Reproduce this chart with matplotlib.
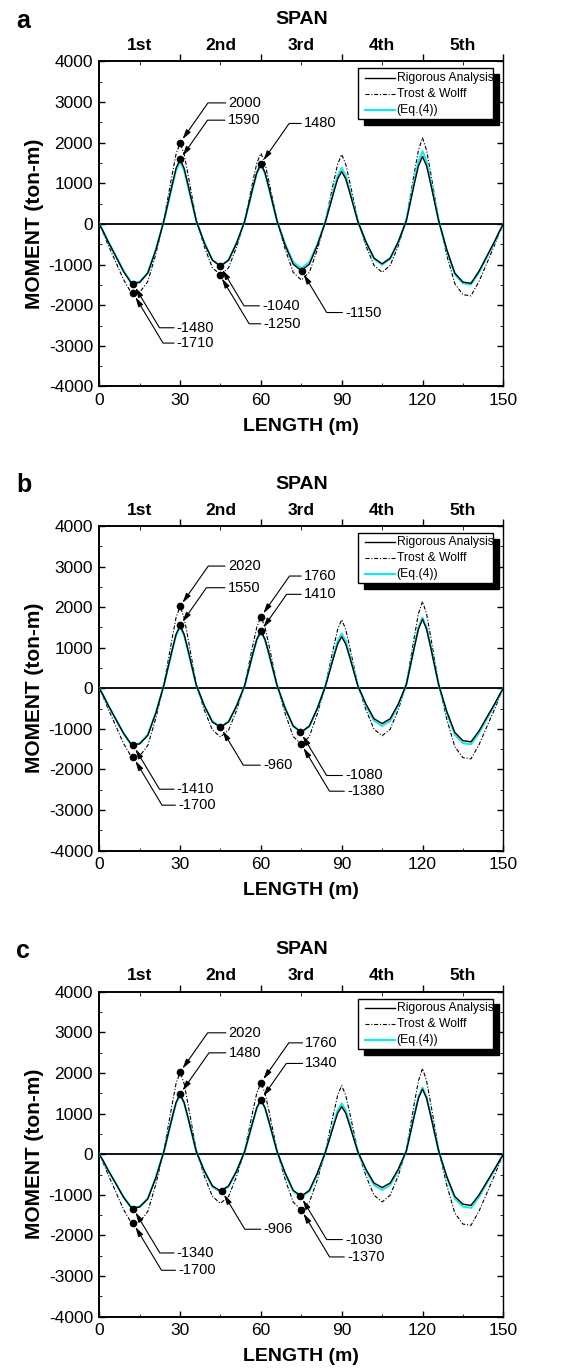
import matplotlib
matplotlib.use("Agg")
import matplotlib.pyplot as plt
from matplotlib.patches import Rectangle
from matplotlib.lines import Line2D
from matplotlib.ticker import MultipleLocator

plt.rcParams["font.family"] = ["Liberation Sans", "DejaVu Sans"]
plt.rcParams["axes.unicode_minus"] = False

# ---- data (moment in ton-m along the 150 m girder) ----
length_m = [0, 1.5, 3, 6, 9, 12, 15, 18, 21, 24, 27, 28.5,
            30, 31.5, 33, 36, 39, 42, 45, 48, 51, 54, 57, 58.5,
            60, 61.5, 63, 66, 69, 72, 75, 78, 81, 84, 87, 88.5,
            90, 91.5, 93, 96, 99, 102, 105, 108, 111, 114, 117, 118.5,
            120, 121.5, 123, 126, 129, 132, 135, 138, 141, 144, 147, 148.5,
            150]

rigorous_a = [0, -190, -400, -780, -1170, -1470, -1440, -1210, -640, 80, 950, 1370,
              1590, 1370, 950, 80, -470, -890, -1040, -890, -470, 70, 890, 1270,
              1480, 1270, 890, 70, -520, -990, -1150, -990, -520, 60, 770, 1110,
              1290, 1110, 770, 60, -440, -840, -980, -840, -440, 80, 1000, 1430,
              1660, 1430, 1000, 80, -630, -1210, -1430, -1460, -1160, -780, -400, -190,
              0]
trost_a = [0, -220, -470, -920, -1370, -1710, -1680, -1420, -740, 100, 1200, 1720,
           2000, 1720, 1200, 100, -560, -1080, -1250, -1080, -560, 90, 1040, 1500,
           1740, 1500, 1040, 90, -620, -1190, -1380, -1190, -620, 90, 1030, 1470,
           1710, 1470, 1030, 90, -540, -1020, -1190, -1020, -540, 110, 1270, 1820,
           2120, 1820, 1270, 110, -770, -1470, -1740, -1770, -1410, -950, -480, -230,
           0]
eq4_a = [0, -190, -390, -770, -1150, -1450, -1420, -1200, -630, 80, 920, 1320,
         1540, 1320, 920, 80, -460, -890, -1030, -890, -460, 70, 870, 1250,
         1450, 1250, 870, 70, -490, -940, -1090, -940, -490, 70, 830, 1190,
         1380, 1190, 830, 70, -450, -860, -1005, -860, -450, 90, 1070, 1540,
         1790, 1540, 1070, 90, -650, -1240, -1460, -1490, -1190, -800, -410, -200,
         0]

rigorous_b = [0, -180, -380, -750, -1110, -1400, -1370, -1160, -610, 80, 930, 1330,
              1550, 1330, 930, 80, -430, -830, -960, -830, -430, 70, 850, 1210,
              1410, 1210, 850, 70, -490, -930, -1080, -930, -490, 60, 760, 1090,
              1270, 1090, 760, 60, -390, -750, -870, -750, -390, 90, 1020, 1460,
              1700, 1460, 1020, 90, -570, -1090, -1290, -1320, -1050, -700, -360, -170,
              0]
trost_b = [0, -220, -460, -910, -1360, -1700, -1670, -1410, -740, 100, 1210, 1740,
           2020, 1740, 1210, 100, -540, -1030, -1200, -1030, -540, 90, 1060, 1510,
           1760, 1510, 1060, 90, -620, -1190, -1380, -1190, -620, 80, 1010, 1450,
           1690, 1450, 1010, 80, -530, -1010, -1170, -1010, -530, 110, 1280, 1840,
           2140, 1840, 1280, 110, -760, -1440, -1710, -1740, -1390, -930, -480, -230,
           0]
eq4_b = [0, -180, -380, -740, -1110, -1390, -1360, -1150, -600, 80, 910, 1300,
         1510, 1300, 910, 80, -430, -820, -950, -820, -430, 70, 840, 1200,
         1400, 1200, 840, 70, -490, -940, -1090, -940, -490, 70, 810, 1160,
         1350, 1160, 810, 70, -420, -800, -930, -800, -420, 90, 1040, 1500,
         1740, 1500, 1040, 90, -600, -1140, -1350, -1380, -1100, -740, -380, -180,
         0]

rigorous_c = [0, -170, -360, -710, -1060, -1330, -1300, -1100, -580, 70, 890, 1270,
              1480, 1270, 890, 70, -410, -780, -906, -780, -410, 70, 800, 1150,
              1340, 1150, 800, 70, -460, -890, -1030, -890, -460, 60, 700, 1010,
              1170, 1010, 700, 60, -370, -710, -820, -710, -370, 80, 960, 1380,
              1600, 1380, 960, 80, -550, -1040, -1230, -1260, -1000, -670, -340, -170,
              0]
trost_c = [0, -220, -460, -910, -1360, -1700, -1670, -1410, -740, 100, 1210, 1740,
           2020, 1740, 1210, 100, -540, -1040, -1210, -1040, -540, 90, 1060, 1510,
           1760, 1510, 1060, 90, -620, -1180, -1370, -1180, -620, 80, 1010, 1450,
           1690, 1450, 1010, 80, -530, -1010, -1175, -1010, -530, 110, 1270, 1810,
           2110, 1810, 1270, 110, -760, -1450, -1720, -1750, -1400, -940, -480, -230,
           0]
eq4_c = [0, -170, -360, -700, -1050, -1320, -1290, -1090, -570, 70, 880, 1260,
         1460, 1260, 880, 70, -420, -800, -930, -800, -420, 70, 790, 1140,
         1320, 1140, 790, 70, -480, -910, -1060, -910, -480, 60, 750, 1080,
         1250, 1080, 750, 60, -400, -760, -880, -760, -400, 80, 980, 1410,
         1640, 1410, 980, 80, -570, -1090, -1290, -1320, -1050, -700, -360, -170,
         0]

# labelled points
mark_x_a = [30, 30, 60, 12.6, 12.6, 44.9, 44.7, 75.1]
mark_m_a = [2000, 1590, 1480, -1480, -1710, -1040, -1250, -1150]
mark_x_b = [30, 30, 60, 60, 12.6, 12.6, 45, 74.7, 75]
mark_m_b = [2020, 1550, 1760, 1410, -1410, -1700, -960, -1080, -1380]
mark_x_c = [30, 30, 60, 60, 12.6, 12.6, 45.5, 74.7, 75]
mark_m_c = [2020, 1480, 1760, 1340, -1340, -1700, -906, -1030, -1370]

span_names = ["1st", "2nd", "3rd", "4th", "5th"]
span_mid = [15, 45, 75, 105, 135]
supports = [30, 60, 90, 120, 150]
legend_names = ["Rigorous Analysis", "Trost & Wolff", "(Eq.(4))"]

# label text positions (layout)
text_pos_a = [(48.0, 2980), (47.7, 2555), (76.0, 2474), (28.8, -2555), (28.8, -2932),
              (60.5, -2015), (61.0, -2457), (91.3, -2180)]
text_pos_b = [(47.7, 3012), (47.7, 2478), (76.0, 2766), (76.0, 2315), (28.8, -2488),
              (29.3, -2882), (60.8, -1896), (91.3, -2150), (92.0, -2537)]
text_pos_c = [(48.0, 2988), (48.0, 2495), (76.5, 2741), (76.5, 2234), (28.8, -2431),
              (29.3, -2857), (61.0, -1847), (91.3, -2101), (92.0, -2529)]

CYAN = "#18e8ec"
DASHDOT = (0, (3.6, 1.6, 1.0, 1.6))


def draw_legend(ax):
    x0, y0, w, h = 0.640, 0.823, 0.335, 0.156
    ax.add_patch(Rectangle((x0 + 0.015, y0 - 0.018), w, h, transform=ax.transAxes,
                           facecolor="black", edgecolor="black", zorder=6, clip_on=False))
    ax.add_patch(Rectangle((x0, y0), w, h, transform=ax.transAxes, facecolor="white",
                           edgecolor="black", lw=1.0, zorder=7, clip_on=False))
    styles = [dict(color="black", lw=1.0), dict(color="black", lw=0.8, linestyle=DASHDOT),
              dict(color=CYAN, lw=1.6)]
    rows = [0.950, 0.900, 0.851]
    for name, st, yy in zip(legend_names, styles, rows):
        ax.add_line(Line2D([0.657, 0.731], [yy, yy], transform=ax.transAxes, zorder=8, **st))
        ax.text(0.736, yy, name, transform=ax.transAxes, fontsize=8.7, va="center",
                ha="left", zorder=8)


def draw_panel(ax, letter, rig, trost, eq4, mx, mm, tpos):
    ax.axhline(0, color="black", lw=1.3, zorder=2)
    ax.plot(length_m, trost, color="black", lw=0.8, linestyle=DASHDOT, zorder=3)
    ax.plot(length_m, eq4, color=CYAN, lw=1.5, zorder=3)
    ax.plot(length_m, rig, color="black", lw=1.0, zorder=4)

    for x, m, (tx, ty) in zip(mx, mm, tpos):
        ax.plot(x, m, "o", color="black", ms=4.5, zorder=5)
        ang = 55 if ty > m else -59
        ax.annotate(str(m), xy=(x, m), xytext=(tx, ty), ha="left", va="center",
                    fontsize=10.5, zorder=5,
                    arrowprops=dict(arrowstyle="-|>,head_length=0.55,head_width=0.15",
                                    color="black", lw=0.8, shrinkA=0, shrinkB=3,
                                    relpos=(0, 0.5),
                                    connectionstyle=f"angle,angleA=0,angleB={ang},rad=0"))

    ax.set_xlim(0, 150)
    ax.set_ylim(-4000, 4000)
    ax.set_xticks([0, 30, 60, 90, 120, 150])
    ax.xaxis.set_minor_locator(MultipleLocator(15))
    ax.set_yticks(range(-4000, 4001, 1000))
    ax.yaxis.set_minor_locator(MultipleLocator(500))
    ax.tick_params(axis="x", which="major", direction="in", length=4.5, width=1,
                   top=False, labelsize=12.5, pad=4.5)
    ax.tick_params(axis="x", which="minor", direction="in", length=2.5, top=False)
    ax.tick_params(axis="y", which="major", direction="in", length=4.5, width=1,
                   right=True, labelsize=12.5, pad=4.5)
    ax.tick_params(axis="y", which="minor", direction="in", length=2.5, right=True)
    for side, lw in [("left", 1.4), ("bottom", 1.4), ("top", 1.2), ("right", 1.0)]:
        ax.spines[side].set_linewidth(lw)

    top = ax.secondary_xaxis("top")
    top.set_xticks(supports)
    top.set_xticklabels([])
    top.set_xticks(span_mid, minor=True)
    top.set_xticklabels(span_names, minor=True, fontweight="bold", fontsize=12.5)
    top.tick_params(which="major", direction="out", length=5, width=1)
    top.tick_params(which="minor", direction="in", length=3, pad=6)
    top.spines["top"].set_linewidth(1.2)

    ax.text(0.5, 1.129, "SPAN", transform=ax.transAxes, ha="center", va="center",
            fontsize=14, fontweight="bold")
    ax.text(-0.16, 0.5, "MOMENT (ton-m)", transform=ax.transAxes, rotation=90,
            ha="center", va="center", fontsize=15, fontweight="bold")
    ax.text(0.5, -0.123, "LENGTH (m)", transform=ax.transAxes, ha="center", va="center",
            fontsize=14, fontweight="bold")
    ax.text(-0.206, 1.126, letter, transform=ax.transAxes, ha="left", va="center",
            fontsize=18, fontweight="bold")
    draw_legend(ax)


fig = plt.figure(figsize=(5.68, 13.69), dpi=100)
left, width = 0.1748, 0.7113
ax_a = fig.add_axes([left, 0.7177, width, 0.2374])
ax_b = fig.add_axes([left, 0.3787, width, 0.2371])
ax_c = fig.add_axes([left, 0.0382, width, 0.2374])

draw_panel(ax_a, "a", rigorous_a, trost_a, eq4_a, mark_x_a, mark_m_a, text_pos_a)
draw_panel(ax_b, "b", rigorous_b, trost_b, eq4_b, mark_x_b, mark_m_b, text_pos_b)
draw_panel(ax_c, "c", rigorous_c, trost_c, eq4_c, mark_x_c, mark_m_c, text_pos_c)

fig.savefig("out.png", dpi=100)
